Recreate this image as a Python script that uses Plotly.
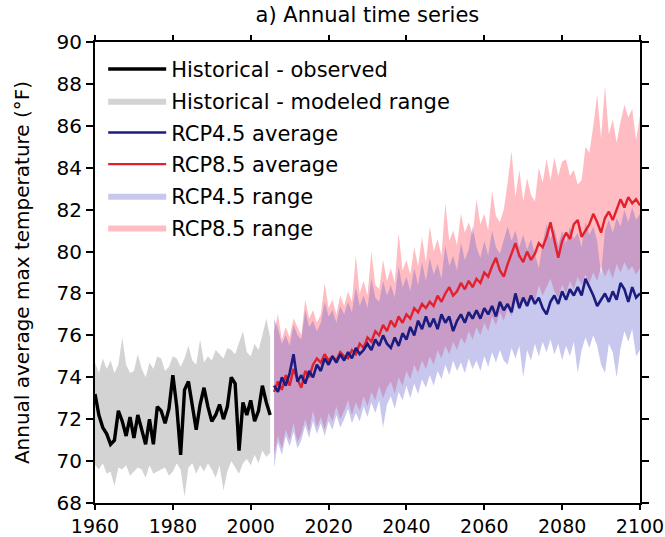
import plotly.graph_objects as go

# ---------------- data ----------------
hist_years = list(range(1960, 2006))
fut_years = list(range(2006, 2101))

hist_obs = [73.2, 72.2, 71.6, 71.3, 70.8, 71.0, 72.4, 71.9, 71.2, 72.1,
            71.1, 72.2, 71.5, 70.8, 72.0, 70.8, 72.6, 72.4, 71.8, 72.5,
            74.1, 72.6, 70.3, 73.4, 73.8, 72.6, 71.5, 72.7, 73.5, 72.6,
            71.9, 72.2, 72.7, 72.0, 72.6, 74.0, 73.7, 70.5, 72.8, 72.2,
            72.9, 71.9, 72.4, 73.6, 72.8, 72.2]

hist_hi = [74.7, 74.2, 74.9, 74.4, 74.8, 74.2, 74.6, 75.9, 74.6, 74.2,
           74.3, 75.1, 74.4, 74.0, 74.7, 74.4, 75.0, 74.9, 74.3, 74.5,
           75.0, 74.9, 74.5, 74.9, 75.5, 74.8, 74.6, 75.8, 74.7, 75.0,
           74.8, 75.3, 75.1, 74.9, 75.4, 75.3, 75.1, 75.6, 76.2, 75.2,
           75.0, 75.6, 75.3, 76.0, 76.8, 75.9]

hist_lo = [69.8, 69.6, 69.9, 69.4, 69.5, 68.8, 69.7, 69.6, 69.8, 69.3,
           69.5, 69.7, 69.6, 69.2, 69.8, 69.4, 69.5, 69.6, 69.7, 69.3,
           69.5, 69.9, 69.6, 68.3, 69.7, 69.9, 69.4, 69.8, 69.5, 69.9,
           69.6, 69.2, 69.8, 68.6, 69.5, 70.0, 69.7, 69.4, 69.9, 70.1,
           69.8, 70.3, 69.9, 70.5, 70.2, 70.4]

rcp45_avg = [73.6, 73.3, 74.0, 73.6, 74.2, 75.1, 73.8, 74.1, 73.7, 74.3,
             74.0, 74.6, 74.3, 74.9, 74.6, 75.0, 74.7, 75.1, 74.8, 75.2,
             74.9, 75.4, 75.1, 75.3, 75.6, 75.3, 75.8, 75.5, 76.0, 75.6,
             75.4, 75.9, 75.5, 76.1, 75.8, 76.4, 76.0, 76.7, 76.3, 76.9,
             76.4, 76.8, 76.3, 77.0, 76.6, 76.9, 76.2, 76.7, 77.0, 76.6,
             77.1, 76.8, 77.2, 76.8, 77.3, 77.0, 77.4, 76.9, 77.6, 77.2,
             77.5, 77.1, 78.0, 77.3, 77.8, 77.4, 77.9, 77.5, 77.8, 77.3,
             77.0, 77.6, 77.9, 77.5, 78.1, 77.7, 78.2, 77.9, 78.3, 77.9,
             78.7, 78.3, 77.9, 77.4, 77.7, 78.0, 77.6, 78.1, 77.7, 78.5,
             78.2, 77.6, 78.3, 77.8, 78.0]

rcp85_avg = [73.3, 73.8, 73.4, 74.1, 73.6, 74.4, 73.9, 73.5, 74.3, 74.0,
             74.6, 74.9, 74.7, 75.1, 74.8, 75.0, 74.8, 75.2, 75.0, 74.9,
             75.3, 75.1, 75.6, 75.4, 75.9, 75.7, 76.2, 76.0, 76.5, 76.2,
             76.7, 76.4, 76.9, 76.6, 77.0, 76.8, 77.3, 77.1, 77.5, 77.3,
             77.6, 77.4, 77.9, 77.6, 78.0, 78.3, 77.9, 78.1, 78.5, 78.2,
             78.6, 78.3, 78.7, 78.5, 79.0, 78.8, 79.3, 79.7, 79.1, 78.8,
             79.4, 79.9, 80.4, 79.8, 79.5, 80.0, 79.6, 79.9, 80.4, 80.2,
             80.7, 81.4, 80.6, 79.7, 80.5, 80.9, 80.6, 81.3, 81.5, 80.7,
             81.0, 81.3, 81.8, 81.4, 80.9, 81.6, 81.9, 81.5, 82.0, 82.5,
             82.1, 82.6, 82.3, 82.5, 82.2]

rcp45_hi = [76.8, 76.3, 75.6, 76.0, 75.5, 76.5, 76.0, 75.8, 77.2, 76.4,
            76.7, 76.2, 76.6, 77.6, 76.9, 77.2, 76.6, 77.4, 77.0, 77.6,
            77.1, 78.3, 77.4, 77.9, 77.3, 78.7, 77.8, 77.6, 78.6, 77.9,
            78.4, 77.8, 79.3, 78.3, 78.8, 78.1, 79.2, 78.4, 79.5, 78.6,
            79.7, 78.9, 79.4, 78.7, 80.3, 79.3, 79.8, 79.1, 80.4, 79.6,
            80.1, 81.2, 80.2, 79.7, 80.5, 79.8, 81.0, 80.2, 79.9, 80.6,
            81.2, 80.5, 81.0, 80.2, 80.8, 80.1, 80.6, 79.9, 79.2, 80.4,
            81.3, 80.6, 81.1, 80.3, 81.0, 80.4, 81.2, 80.6, 80.9, 80.2,
            81.4, 80.8, 81.2, 80.5, 78.9, 81.0, 81.5, 80.9, 81.6, 81.2,
            82.0, 81.4, 82.1, 81.5, 81.8]

rcp45_lo = [69.7, 70.9, 70.3, 71.2, 70.7, 71.4, 70.6, 71.0, 71.7, 71.1,
            71.9, 71.3, 71.8, 71.2, 71.9, 71.5, 72.2, 71.6, 72.0, 72.5,
            71.8, 72.3, 71.9, 72.6, 72.1, 72.8, 72.3, 72.9, 71.6, 72.7,
            73.1, 72.5, 73.3, 72.9, 73.6, 73.0, 73.7, 73.2, 73.9, 73.5,
            74.1, 73.6, 74.3, 73.9, 74.6, 74.1, 74.8, 74.3, 74.7, 74.2,
            74.9, 74.4, 74.8, 74.3, 75.0, 74.5, 75.2, 74.7, 75.3, 74.8,
            74.6, 75.4, 74.9, 75.5, 74.0, 75.3, 74.8, 75.6, 75.0, 75.7,
            75.2, 75.8, 75.1, 75.6, 74.8, 75.5, 75.0, 75.7, 74.2, 75.3,
            75.9, 75.4, 76.0, 75.5, 74.6, 74.2, 75.6, 75.2, 74.0, 75.4,
            76.2, 75.7, 76.3, 75.0, 75.3]

rcp85_hi = [76.2, 77.0, 75.8, 76.4, 75.9, 76.8, 76.4, 76.0, 77.7, 76.8,
            77.2, 76.6, 77.0, 78.5, 77.3, 77.7, 77.0, 77.9, 77.4, 78.1,
            77.6, 79.8, 78.0, 78.6, 77.9, 80.0, 78.4, 78.2, 79.6, 78.6,
            79.2, 78.5, 80.9, 79.1, 79.6, 78.9, 80.2, 79.3, 80.7, 79.5,
            81.2, 80.0, 80.6, 79.8, 82.3, 80.5, 81.0, 80.3, 81.8, 80.9,
            81.4, 80.8, 82.5, 81.3, 81.8, 81.0, 82.9, 81.7, 81.4, 82.0,
            83.3, 84.8, 82.6, 83.9, 82.4, 83.5, 82.7, 82.4, 84.0, 83.3,
            84.4, 83.4, 84.5, 83.6, 84.3, 84.4, 83.6, 83.9, 83.2, 83.4,
            85.0, 84.7, 86.0, 87.5, 85.4, 87.9, 85.6, 86.3, 85.2, 86.2,
            87.0, 86.4, 86.8, 85.3, 86.5]

rcp85_lo = [70.3, 71.2, 70.6, 71.5, 71.0, 71.8, 70.9, 71.3, 72.0, 71.4,
            72.4, 71.6, 72.1, 71.5, 72.3, 71.9, 72.6, 72.0, 72.4, 72.9,
            72.2, 72.8, 72.4, 73.1, 72.6, 73.3, 72.9, 73.6, 73.0, 73.5,
            73.8, 73.2, 74.0, 73.6, 74.3, 73.9, 74.6, 74.2, 74.8, 74.4,
            75.0, 74.6, 75.3, 74.9, 75.5, 75.1, 75.7, 75.3, 75.9, 75.6,
            76.2, 75.8, 76.4, 76.0, 76.6, 76.2, 76.9, 76.5, 77.1, 76.7,
            77.3, 76.9, 77.6, 77.2, 77.8, 77.4, 78.0, 77.6, 78.4, 77.9,
            78.3, 78.7, 78.1, 77.8, 78.4, 78.0, 78.6, 78.2, 78.8, 78.4,
            78.9, 78.5, 79.0, 78.6, 79.3, 78.8, 79.2, 78.7, 79.4, 79.0,
            79.5, 79.1, 79.3, 78.9, 79.2]

x_ticks = [1960, 1980, 2000, 2020, 2040, 2060, 2080, 2100]
y_ticks = list(range(68, 91, 2))

FONT = "DejaVu Sans"
GRAY_FILL = "rgba(190,190,190,0.68)"
BLUE_FILL = "rgba(95,95,205,0.34)"
RED_FILL = "rgba(255,95,110,0.42)"

fig = go.Figure()

def band(x, lo, hi, color, name, group, rank):
    fig.add_trace(go.Scatter(x=x, y=lo, mode="lines", line=dict(width=0, color=color),
                             showlegend=False, legendgroup=group, hoverinfo="skip"))
    fig.add_trace(go.Scatter(x=x, y=hi, mode="lines", line=dict(width=0, color=color),
                             fill="tonexty", fillcolor=color, name=name,
                             legendgroup=group, legendrank=rank))

band(hist_years, hist_lo, hist_hi, GRAY_FILL, "Historical - modeled range", "g2", 2)
band(fut_years, rcp85_lo, rcp85_hi, RED_FILL, "RCP8.5 range", "g6", 6)
band(fut_years, rcp45_lo, rcp45_hi, BLUE_FILL, "RCP4.5 range", "g5", 5)

fig.add_trace(go.Scatter(x=hist_years, y=hist_obs, mode="lines",
                         line=dict(color="black", width=3.4),
                         name="Historical - observed", legendgroup="g1", legendrank=1))
fig.add_trace(go.Scatter(x=fut_years, y=rcp85_avg, mode="lines",
                         line=dict(color="#e3202c", width=2.4),
                         name="RCP8.5 average", legendgroup="g4", legendrank=4))
fig.add_trace(go.Scatter(x=fut_years, y=rcp45_avg, mode="lines",
                         line=dict(color="#1c1c80", width=2.6),
                         name="RCP4.5 average", legendgroup="g3", legendrank=3))

axis_common = dict(showgrid=False, zeroline=False, showline=True, linecolor="black",
                   linewidth=2, mirror="ticks", ticks="outside",
                   tickwidth=1.5, tickcolor="black", automargin=False,
                   ticklabeloverflow="allow")

fig.update_xaxes(range=[1960, 2100], tickvals=x_ticks, ticklen=5,
                 tickfont=dict(family=FONT, size=19, color="black"), **axis_common)
fig.update_yaxes(range=[68, 90], tickvals=y_ticks, ticklen=7,
                 tickfont=dict(family=FONT, size=20, color="black"),
                 title=dict(text="Annual average max temperature (°F)",
                            font=dict(family=FONT, size=20, color="black"), standoff=22),
                 **axis_common)

fig.update_layout(
    width=665, height=537,
    margin=dict(l=95, r=25, t=42, b=34, autoexpand=False),
    paper_bgcolor="white", plot_bgcolor="white",
    title=dict(text="a) Annual time series", x=0.5525, xanchor="center",
               y=0.972, yanchor="middle",
               font=dict(family=FONT, size=21, color="black")),
    legend=dict(x=0.015, y=0.985, xanchor="left", yanchor="top",
                font=dict(family=FONT, size=21, color="black"),
                bgcolor="rgba(0,0,0,0)", tracegroupgap=1.4, itemwidth=58,
                traceorder="grouped"),
    showlegend=True,
)

fig.write_html("out.html")
